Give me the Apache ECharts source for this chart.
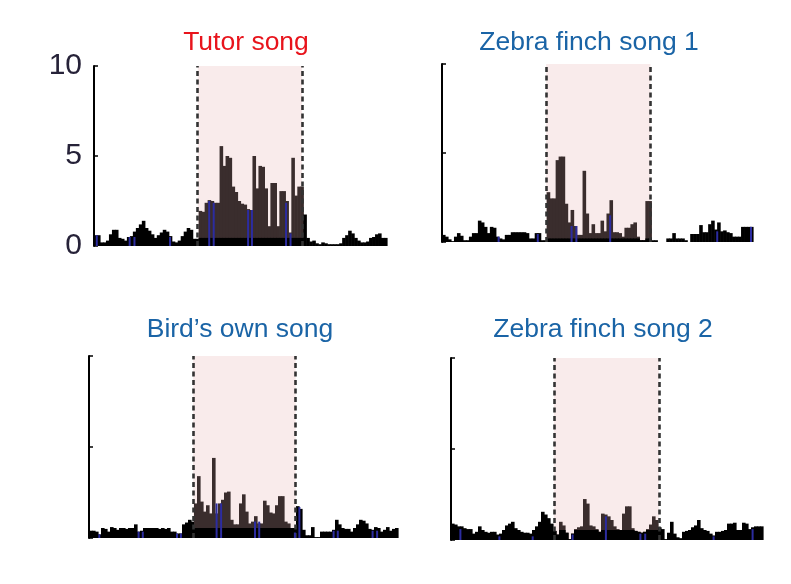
<!DOCTYPE html>
<html><head><meta charset="utf-8">
<script src="https://cdn.jsdelivr.net/npm/echarts@6/dist/echarts.min.js"></script>
<style>html,body{margin:0;padding:0;background:#fff}#c{width:791px;height:584px}</style>
</head><body><div id="c"></div>
<script>
// ---------------- data ----------------
const titles = ['Tutor song', 'Zebra finch song 1', 'Bird\u2019s own song', 'Zebra finch song 2'];
const yTicks = [0, 5, 10];

// spike counts per time bin (bin index = position)
const tutorCounts = [
  0.6,0.6,0.2,0.2,0.3,0.65,0.9,0.9,0.45,0.4,
  0.3,0.5,0.55,0.8,1.0,1.2,1.4,1.0,0.85,0.65,
  0.45,0.6,0.75,0.9,0.8,0.55,0.25,0.2,0.3,0.55,
  0.8,1.0,0.9,0.4,0.4,
  1.95,1.9,2.4,2.55,2.5,2.4,2.4,5.55,4.45,5.0,
  4.9,3.3,3.0,2.5,2.35,2.3,2.05,2.0,5.0,3.2,
  4.45,4.4,3.2,1.1,3.5,3.5,1.1,3.05,3.05,2.5,
  0.75,4.9,2.8,3.3,3.3,
  1.75,0.45,0.25,0.3,0.15,0.1,0.2,0.15,0.1,0.1,
  0.1,0.1,0.15,0.45,0.6,0.85,0.7,0.45,0.3,0.2,
  0.2,0.25,0.45,0.5,0.65,0.7,0.45,0.45
];
const zf1Counts = [
  0.4,0.3,0.15,0.05,0.3,0.5,0.35,0.1,0.1,0.3,
  0.5,0.5,1.2,1.1,0.85,0.5,0.85,0.8,0.3,0.2,
  0.15,0.4,0.4,0.55,0.55,0.55,0.55,0.55,0.5,0.2,
  0.2,0.5,0.5,0.1,0.1,
  2.8,2.45,2.45,4.6,4.8,4.8,2.15,1.1,1.8,0.9,
  0.4,0.4,4.0,1.6,0.5,1.0,0.5,0.5,1.2,0.6,
  1.6,2.35,0.55,0.55,0.5,0.3,0.8,0.8,1.0,1.1,
  0.3,0.1,0.1,2.3,2.3,
  0.1,0.1,0,0,0,0.2,0.2,0.5,0.2,0.2,
  0.2,0.1,0,0.45,0.45,0.45,0.95,0.55,0.55,1.0,
  1.2,0.7,1.1,0.6,0.65,0.55,0.5,0.3,0.3,0.3,
  0.85,0.85,0.85,0.85
];
const bosCounts = [
  0.4,0.4,0.35,0.2,0.55,0.5,0.35,0.6,0.55,0.45,
  0.55,0.55,0.5,0.55,0.55,0.75,0.35,0.4,0.55,0.55,
  0.55,0.55,0.55,0.5,0.55,0.5,0.55,0.35,0.35,0.25,
  0.25,0.75,0.85,1.0,0.9,
  1.9,3.4,2.0,1.45,1.8,1.35,4.4,1.35,1.9,2.1,
  2.5,2.55,1.0,0.75,0.75,1.9,2.4,1.45,0.8,0.9,
  1.2,0.8,0.8,2.05,1.8,1.4,1.35,1.8,2.3,2.3,
  0.9,0.8,0.55,0.55,
  1.75,1.6,0.45,0.15,0.15,0.6,0.05,0.05,0.35,0.35,
  0.35,0.35,0.45,1.0,0.75,0.55,0.5,0.5,0.35,0.55,
  0.75,1.0,0.95,0.8,0.5,0.45,0.6,0.55,0.35,0.45,
  0.6,0.4,0.5,0.55
];
const zf2Counts = [
  0.9,0.85,0.75,0.75,0.65,0.6,0.6,0.35,0.45,0.75,
  0.55,0.45,0.4,0.45,0.45,0.3,0.35,0.55,0.8,0.9,
  1.0,0.65,0.55,0.45,0.4,0.4,0.35,0.55,0.75,1.0,
  1.55,1.4,1.2,0.9,0.5,
  0.3,1.0,0.8,0.4,0.05,0.35,0.6,0.7,0.75,2.25,
  2.0,0.8,0.75,0.6,0.45,1.45,1.4,1.3,1.1,0.75,
  0.6,0.55,1.45,1.85,1.85,0.65,0.5,0.45,0.4,0.45,
  0.6,0.85,1.3,1.1,0.7,
  0.6,0.05,0.4,1.0,0.35,0.15,0.1,0.45,0.5,0.55,
  0.7,0.8,1.1,0.65,0.55,0.5,0.35,0.25,0.45,0.45,
  0.5,0.55,0.9,0.9,0.95,0.55,0.55,0.95,0.9,0.6,
  0.7,0.75,0.75,0.75
];

// thin blue marks: [bin position, height]
const tutorBlue = [[0.6,0.6],[11.6,0.5],[13.2,0.5],[25.1,0.5],[38.2,2.5],[39.7,2.4],[51.2,2.0],[52.5,2.0],[63.9,2.4],[65.4,0.7]];
const zf1Blue = [[18.6,0.3],[31.7,0.45],[43.0,0.9],[44.6,0.9],[55.9,1.5],[91.7,0.6],[103.0,0.85]];
const bosBlue = [[3.1,0.2],[16.2,0.35],[17.6,0.35],[29.0,0.25],[30.3,0.25],[42.2,1.9],[43.7,1.9],[55.0,0.9],[56.4,0.9],[68.3,0.3],[69.8,1.7],[81.2,0.4],[82.6,0.4],[94.2,0.4],[95.7,0.4]];
const zf2Blue = [[2.8,0.6],[15.8,0.2],[26.9,0.2],[40.2,0.3],[51.3,1.3],[62.8,0.35],[64.4,0.35],[87.2,0.2],[100.2,0.6]];

// song window (onset, offset) in bins
const tutorWindow = [34.7, 69.6];
const zf1Window = [34.8, 69.7];
const bosWindow = [34.7, 68.9];
const zf2Window = [34.3, 69.3];

// black spontaneous level inside the song window
const tutorFloor = 0.45, zf1Floor = 0.2, bosFloor = 0.55, zf2Floor = 0.55;

// ---------------- layout / style ----------------
const RED = '#e8141c', BLUE = '#1a64a6';
const BLACK = '#000000', BROWN = '#3a2d2d', MARKBLUE = '#2c2ca0', SHADE = '#f9ebeb';

const panels = [
  {title: titles[0], tcol: RED,  counts: tutorCounts, blue: tutorBlue, win: tutorWindow, floor: tutorFloor,
   grid: {left: 94, top: 66, width: 293, height: 180}, labels: true, tpos: [246, 43]},
  {title: titles[1], tcol: BLUE, counts: zf1Counts, blue: zf1Blue, win: zf1Window, floor: zf1Floor,
   grid: {left: 442, top: 64, width: 311, height: 178}, labels: false, tpos: [589, 43]},
  {title: titles[2], tcol: BLUE, counts: bosCounts, blue: bosBlue, win: bosWindow, floor: bosFloor,
   grid: {left: 89, top: 356, width: 309, height: 182}, labels: false, tpos: [240, 330]},
  {title: titles[3], tcol: BLUE, counts: zf2Counts, blue: zf2Blue, win: zf2Window, floor: zf2Floor,
   grid: {left: 451, top: 358, width: 312, height: 182}, labels: false, tpos: [603, 330]}
];

function rectItem(fill, fixedW) {
  return function (params, api) {
    const x = api.value(0), v = api.value(1);
    if (!v) return null;
    const a = api.coord([x, 0]);
    const b = api.coord([x + 1, v]);
    const w = fixedW ? fixedW : (b[0] - a[0] + 0.6);
    const f = typeof fill === 'function' ? fill(api) : fill;
    return {type: 'rect', shape: {x: a[0], y: b[1], width: w, height: a[1] - b[1]}, style: {fill: f}};
  };
}

const grid = [], xAxis = [], yAxis = [], series = [], graphic = [];
panels.forEach((p, k) => {
  const N = p.counts.length;
  grid.push(Object.assign({containLabel: false}, p.grid));
  xAxis.push({type: 'value', gridIndex: k, min: 0, max: N, show: false});
  yAxis.push({
    type: 'value', gridIndex: k, min: yTicks[0], max: yTicks[yTicks.length - 1], interval: yTicks[1] - yTicks[0],
    axisLine: {show: true, onZero: false, lineStyle: {color: '#000', width: 2}},
    axisTick: {show: true, inside: true, length: 4, lineStyle: {color: '#000', width: 1.5}},
    splitLine: {show: false},
    axisLabel: {show: p.labels, fontSize: 30, color: '#262238', fontFamily: 'Liberation Sans, Arial, sans-serif', margin: 12}
  });
  // window shading + dashed onset/offset lines
  series.push({
    type: 'line', xAxisIndex: k, yAxisIndex: k, data: [], z: 1, silent: true,
    markArea: {silent: true, itemStyle: {color: SHADE}, data: [[{xAxis: p.win[0]}, {xAxis: p.win[1]}]]},
    markLine: {silent: true, symbol: ['none', 'none'], label: {show: false},
      lineStyle: {color: '#333333', width: 2.6, type: [5, 3.5]},
      data: [{xAxis: p.win[0]}, {xAxis: p.win[1]}]}
  });
  // histogram
  const data = p.counts.map((v, i) => [i, v, (i + 0.5 > p.win[0] && i + 0.5 < p.win[1]) ? 1 : 0]);
  series.push({
    type: 'custom', xAxisIndex: k, yAxisIndex: k, z: 3, silent: true,
    encode: {x: 0, y: 1},
    renderItem: rectItem(api => api.value(2) ? BROWN : BLACK),
    data: data
  });
  // black baseline inside window
  const floorData = data.filter(d => d[2]).map(d => [d[0], Math.min(d[1], p.floor)]);
  series.push({
    type: 'custom', xAxisIndex: k, yAxisIndex: k, z: 4, silent: true,
    encode: {x: 0, y: 1},
    renderItem: rectItem(BLACK),
    data: floorData
  });
  // blue marks
  series.push({
    type: 'custom', xAxisIndex: k, yAxisIndex: k, z: 5, silent: true,
    encode: {x: 0, y: 1},
    renderItem: rectItem(MARKBLUE, 2),
    data: p.blue
  });
  graphic.push({
    type: 'text', x: p.tpos[0], y: p.tpos[1], silent: true,
    style: {text: p.title, fill: p.tcol, font: '26.5px "Liberation Sans", Arial, sans-serif', align: 'center', verticalAlign: 'middle'}
  });
});

const chart = echarts.init(document.getElementById('c'), null, {renderer: 'canvas'});
chart.setOption({
  backgroundColor: '#ffffff',
  animation: false,
  grid, xAxis, yAxis, series, graphic
});
</script>
</body></html>
